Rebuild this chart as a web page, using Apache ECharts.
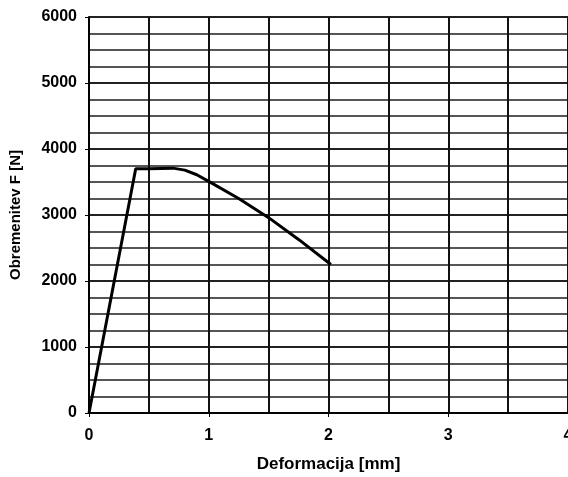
<!DOCTYPE html>
<html>
<head>
<meta charset="utf-8">
<script src="https://cdn.jsdelivr.net/npm/echarts@6/dist/echarts.min.js"></script>
<style>
  html, body { margin: 0; padding: 0; background: #fff; }
  #chart { width: 568px; height: 477px; }
</style>
</head>
<body>
<div id="chart"></div>
<script>
// values
const deformation = [0, 0.39, 0.5, 0.7, 0.8, 0.9, 1.0, 1.25, 1.5, 1.75, 2.02];
const force = [0, 3700, 3700, 3710, 3680, 3610, 3510, 3250, 2960, 2630, 2250];
const xTicks = [0, 1, 2, 3, 4];
const yTicks = [0, 1000, 2000, 3000, 4000, 5000, 6000];

const font = 'Liberation Sans, Arial, sans-serif';

const chart = echarts.init(document.getElementById('chart'));

chart.setOption({
    animation: false,
    grid: { left: 89, right: 0, top: 17, bottom: 64, outerBoundsMode: 'none' },
    xAxis: {
        type: 'value',
        min: xTicks[0],
        max: xTicks[xTicks.length - 1],
        interval: 1,
        name: 'Deformacija [mm]',
        nameLocation: 'middle',
        nameGap: 43,
        nameTextStyle: { fontFamily: font, fontWeight: 'bold', fontSize: 17, color: '#000' },
        axisLine: { lineStyle: { color: '#000', width: 2 } },
        axisTick: { show: true, length: 4, lineStyle: { color: '#000' } },
        axisLabel: { fontFamily: font, fontWeight: 'bold', fontSize: 16, color: '#000', margin: 15 },
        splitLine: { show: true, lineStyle: { color: '#111', width: 2 } },
        minorTick: { show: false, splitNumber: 2 },
        minorSplitLine: { show: true, lineStyle: { color: '#111', width: 2 } }
    },
    yAxis: {
        type: 'value',
        min: yTicks[0],
        max: yTicks[yTicks.length - 1],
        interval: 1000,
        name: 'Obremenitev F [N]',
        nameLocation: 'middle',
        nameGap: 66,
        nameTextStyle: { fontFamily: font, fontWeight: 'bold', fontSize: 15, color: '#000' },
        axisLine: { show: true, lineStyle: { color: '#000', width: 2 } },
        axisTick: { show: true, length: 4, lineStyle: { color: '#000' } },
        axisLabel: {
            fontFamily: font, fontWeight: 'bold', fontSize: 16, color: '#000', margin: 12,
            formatter: (v) => String(v)
        },
        splitLine: { show: true, lineStyle: { color: '#222', width: 2 } },
        minorTick: { show: false, splitNumber: 4 },
        minorSplitLine: { show: true, lineStyle: { color: '#555', width: 2 } }
    },
    series: [{
        type: 'line',
        data: deformation.map((d, i) => [d, force[i]]),
        showSymbol: false,
        lineStyle: { color: '#000', width: 3 },
        z: 5
    }]
});
</script>
</body>
</html>
